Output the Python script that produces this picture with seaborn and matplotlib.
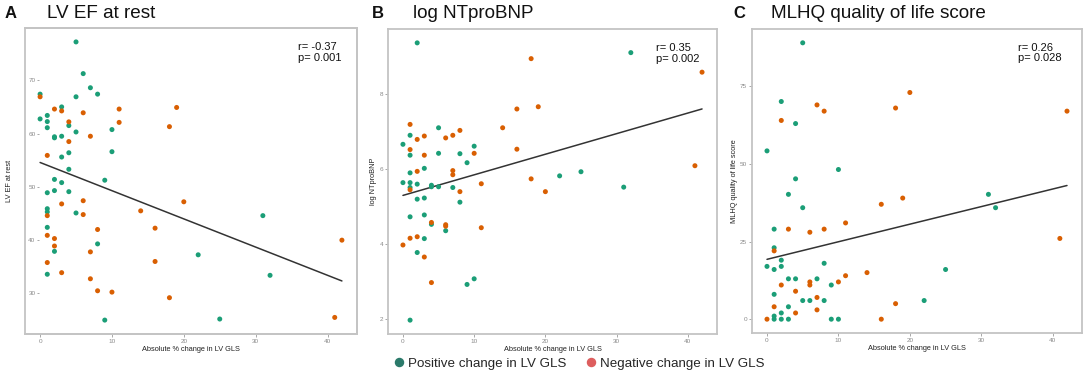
import numpy as np
import pandas as pd
import matplotlib
matplotlib.use("Agg")
import matplotlib.pyplot as plt
from matplotlib.lines import Line2D
from matplotlib.patches import Rectangle
import seaborn as sns

sns.set_theme(style="white")
plt.rcParams['font.family'] = ['Liberation Sans', 'DejaVu Sans']

# ---------------- data ----------------
# Panel A: LV EF at rest
a_pos_x = [5, 6, 7, 8, 5, 0, 0, 1, 1, 1, 3, 2, 2, 3, 4, 5, 3, 4, 4, 10, 10, 9, 2, 3, 1, 2, 4,
           1, 1, 5, 1, 8, 2, 1, 22, 31, 32, 9, 25]
a_pos_y = [77.2, 71.25, 68.6, 67.4, 66.9, 67.4, 62.75, 63.4, 62.25, 61.1, 65.0, 59.4, 59.2, 59.5,
           61.5, 60.3, 55.6, 56.4, 53.3, 60.75, 56.6, 51.25, 51.4, 50.8, 48.9, 49.3, 49.1,
           45.9, 45.3, 45.1, 42.4, 39.3, 37.9, 33.6, 37.25, 44.6, 33.4, 25.0, 25.2]
a_neg_x = [0, 2, 3, 4, 4, 6, 7, 11, 11, 18, 19, 1, 3, 6, 6, 1, 1, 2, 2, 1, 3, 8, 7, 7, 8, 10,
           14, 16, 16, 18, 20, 42, 41]
a_neg_y = [66.9, 64.6, 64.25, 62.2, 58.5, 63.9, 59.5, 64.6, 62.1, 61.3, 64.9, 55.9, 46.8, 47.4,
           44.8, 44.6, 40.9, 40.3, 38.9, 35.8, 33.9, 42.0, 37.8, 32.75, 30.5, 30.25,
           45.5, 42.25, 36.0, 29.2, 47.2, 40.0, 25.5]

# Panel B: log NTproBNP
b_pos_x = [2, 32, 0, 1, 1, 5, 5, 8, 10, 9, 3, 1, 0, 1, 1, 2, 4, 4, 5, 7, 22, 25, 31, 2, 3, 8,
           1, 3, 4, 6, 3, 2, 10, 9, 1]
b_pos_y = [9.36, 9.1, 6.66, 6.9, 6.37, 7.1, 6.42, 6.41, 6.61, 6.17, 6.02, 5.9, 5.64, 5.64, 5.51,
           5.6, 5.57, 5.53, 5.53, 5.51, 5.82, 5.93, 5.52, 5.2, 5.23, 5.12,
           4.73, 4.78, 4.53, 4.36, 4.15, 3.78, 3.08, 2.93, 1.98]
b_neg_x = [1, 2, 3, 1, 3, 2, 6, 7, 8, 10, 7, 7, 8, 1, 11, 14, 16, 16, 18, 19, 18, 20, 41, 42,
           4, 6, 6, 2, 1, 0, 3, 4, 11]
b_neg_y = [7.19, 6.79, 6.88, 6.52, 6.37, 5.94, 6.83, 6.9, 7.03, 6.42, 5.96, 5.85, 5.4, 5.45, 5.61,
           7.1, 7.6, 6.53, 8.94, 7.66, 5.74, 5.4, 6.09, 8.58,
           4.58, 4.52, 4.48, 4.2, 4.16, 3.98, 3.66, 2.98, 4.44]

# Panel C: MLHQ quality of life score
c_pos_x = [5, 2, 4, 0, 10, 4, 3, 31, 5, 32, 1, 1, 2, 0, 1, 2, 8, 3, 4, 7, 1, 9, 5, 6, 8, 3, 2,
           1, 1, 2, 3, 9, 10, 22, 25]
c_pos_y = [89, 70.1, 63, 54.2, 48.2, 45.2, 40.2, 40.2, 35.9, 35.9, 29, 23, 19, 17, 16, 17, 18,
           13, 13, 13, 8, 11, 6, 6, 6, 4, 2, 1, 0, 0, 0, 0, 0, 6, 16]
c_neg_x = [2, 7, 8, 18, 20, 42, 19, 3, 6, 8, 11, 16, 41, 1, 2, 4, 6, 6, 10, 11, 14, 7, 7, 1, 4,
           0, 16, 18]
c_neg_y = [64, 69, 67, 68, 73, 67, 39, 29, 28, 29, 31, 37, 26, 22, 11, 9, 12, 11, 12, 14, 15,
           7, 3, 4, 2, 0, 0, 5]

panels = [
    ("A", "LV EF at rest", "LV EF at rest", a_pos_x, a_pos_y, a_neg_x, a_neg_y,
     [30, 40, 50, 60, 70], "r= -0.37\np= 0.001"),
    ("B", "log NTproBNP", "log NTproBNP", b_pos_x, b_pos_y, b_neg_x, b_neg_y,
     [2, 4, 6, 8], "r= 0.35\np= 0.002"),
    ("C", "MLHQ quality of life score", "MLHQ quality of life score", c_pos_x, c_pos_y,
     c_neg_x, c_neg_y, [0, 25, 50, 75], "r= 0.26\np= 0.028"),
]
x_ticks = [0, 10, 20, 30, 40]
x_label = "Absolute % change in LV GLS"
group_names = ["Positive change in LV GLS", "Negative change in LV GLS"]

point_palette = {group_names[0]: "#1b9e77", group_names[1]: "#d95f02"}
legend_colors = ["#2b7a6a", "#dd5e5e"]
frame_color = "#c4c4c4"

# ---------------- layout ----------------
W, H = 1084, 377
fig = plt.figure(figsize=(W / 100, H / 100), dpi=100)

axes_px = [(25, 357, 28, 334), (388, 717, 29, 334), (752, 1082, 29, 333)]
letter_px = [5, 372, 733]
title_px = [47, 413, 771]
text_xs = [0.821, 0.815, 0.805]
ylabel_xs = [-0.036, -0.032, -0.041]

for i, (letter, title, ylab, px, py, nx, ny, yt, stat) in enumerate(panels):
    l, r, t, b = axes_px[i]
    ax = fig.add_axes([l / W, 1 - b / H, (r - l) / W, (b - t) / H])
    df = pd.DataFrame({
        "x": list(px) + list(nx),
        "y": list(py) + list(ny),
        "group": [group_names[0]] * len(px) + [group_names[1]] * len(nx),
    })
    sns.scatterplot(data=df, x="x", y="y", hue="group", palette=point_palette,
                    s=13, linewidth=0, legend=False, ax=ax, zorder=3)
    sns.regplot(data=df, x="x", y="y", scatter=False, ci=None, ax=ax,
                line_kws=dict(color="#333333", lw=1.1, zorder=2))
    ax.set_xticks(x_ticks)
    ax.set_yticks(yt)
    ax.margins(x=0.05, y=0.05)
    ax.set_xlabel(x_label, fontsize=5.3, color="#222222", labelpad=1.5)
    ax.set_ylabel(ylab, fontsize=5.3, color="#222222")
    ax.tick_params(axis="both", labelsize=4.6, labelcolor="#8a8a8a", color="#9a9a9a",
                   length=2.0, width=0.6, pad=1.5, direction="out",
                   bottom=True, left=True)
    for sp in ax.spines.values():
        sp.set_color(frame_color)
        sp.set_linewidth(1.3)
    if i == 0:
        # panel A draws its y tick labels inside the frame
        ax.spines["left"].set_position(("data", -0.15))
        ax.spines["left"].set_visible(False)
        ax.tick_params(axis="y", length=1.5, pad=1.0)
        ax.add_patch(Rectangle((0, 0), 1, 1, transform=ax.transAxes, fill=False,
                               edgecolor=frame_color, linewidth=1.3, clip_on=False,
                               zorder=5))
    ax.yaxis.set_label_coords(ylabel_xs[i], 0.5)
    ax.text(text_xs[i], 0.955, stat, transform=ax.transAxes, fontsize=8,
            va="top", ha="left", color="#111111", linespacing=1.1)
    fig.text(letter_px[i] / W, 1 - 17.5 / H, letter, fontsize=12, fontweight="bold",
             va="baseline", ha="left", color="#111111")
    fig.text(title_px[i] / W, 1 - 17.5 / H, title, fontsize=13.6,
             va="baseline", ha="left", color="#111111")

handles = [Line2D([0], [0], marker="o", linestyle="none", markersize=5.8,
                  markerfacecolor=c, markeredgecolor=c) for c in legend_colors]
fig.legend(handles, group_names, loc="center", bbox_to_anchor=(0.5337, 0.035), ncol=2,
           frameon=False, fontsize=9.6, handletextpad=0.15, handlelength=1.0,
           columnspacing=1.4)

fig.savefig("out.png", dpi=100)
